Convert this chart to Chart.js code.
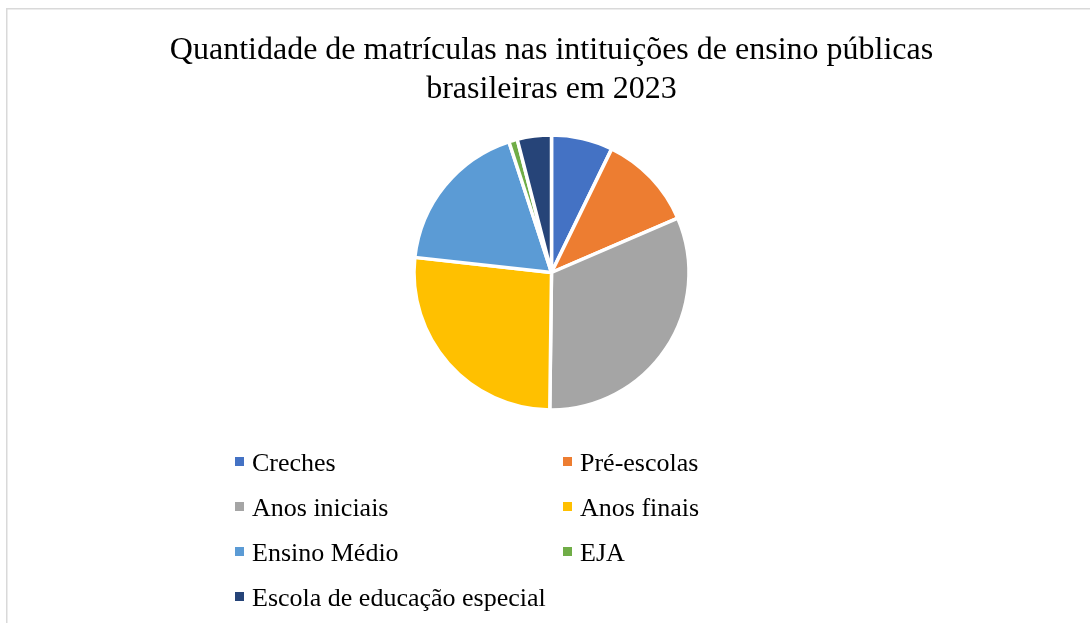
<!DOCTYPE html>
<html>
<head>
<meta charset="utf-8">
<script src="https://cdn.jsdelivr.net/npm/chart.js@4.4.1/dist/chart.umd.min.js"></script>
<style>
  html, body { margin: 0; padding: 0; background: #ffffff; }
  #wrap { position: relative; width: 1090px; height: 623px; }
</style>
</head>
<body>
<div id="wrap"><canvas id="c" width="1090" height="623"></canvas></div>
<script>
const titleLines = ["Quantidade de matrículas nas intituições de ensino públicas", "brasileiras em 2023"];
const categories = ["Creches", "Pré-escolas", "Anos iniciais", "Anos finais", "Ensino Médio", "EJA", "Escola de educação especial"];
const shares = [7.2, 11.3, 31.6, 26.5, 18.2, 1.0, 4.0];
const colors = ["#4472C4", "#ED7D31", "#A5A5A5", "#FFC000", "#5B9BD5", "#70AD47", "#264478"];

const SERIF = '"Liberation Serif", "Times New Roman", serif';

const framePlugin = {
  id: 'frame',
  beforeDraw(chart) {
    const ctx = chart.ctx;
    ctx.save();
    ctx.fillStyle = '#ffffff';
    ctx.fillRect(0, 0, chart.width, chart.height);
    ctx.strokeStyle = '#d9d9d9';
    ctx.lineWidth = 1.5;
    ctx.strokeRect(6.75, 8.75, 1200, 800);
    ctx.restore();
  }
};

const gridLegend = {
  id: 'gridLegend',
  afterDraw(chart) {
    const ctx = chart.ctx;
    const colX = [235, 563];
    const rowY = [471, 516, 561, 606];
    const labels = chart.data.labels;
    const bg = chart.data.datasets[0].backgroundColor;
    ctx.save();
    ctx.font = '26px ' + SERIF;
    ctx.textBaseline = 'alphabetic';
    ctx.textAlign = 'left';
    labels.forEach((lab, i) => {
      const x = colX[i % 2];
      const y = rowY[Math.floor(i / 2)];
      ctx.fillStyle = bg[i];
      ctx.fillRect(x, y - 14, 9, 9);
      ctx.fillStyle = '#000000';
      ctx.fillText(lab, x + 17, y);
    });
    ctx.restore();
  }
};

new Chart(document.getElementById('c'), {
  type: 'pie',
  data: {
    labels: categories,
    datasets: [{
      data: shares,
      backgroundColor: colors,
      borderColor: '#ffffff',
      borderWidth: 3.5,
      radius: 137.5
    }]
  },
  options: {
    responsive: false,
    animation: false,
    layout: { padding: { left: 13, right: 0, top: 0, bottom: 192.4 } },
    plugins: {
      legend: { display: false },
      tooltip: { enabled: false },
      title: {
        display: true,
        text: titleLines,
        color: '#000000',
        font: { family: SERIF, size: 32, weight: 'normal', lineHeight: 1.2 },
        padding: { top: 31.5, bottom: 6.1 }
      }
    }
  },
  plugins: [framePlugin, gridLegend]
});
</script>
</body>
</html>
